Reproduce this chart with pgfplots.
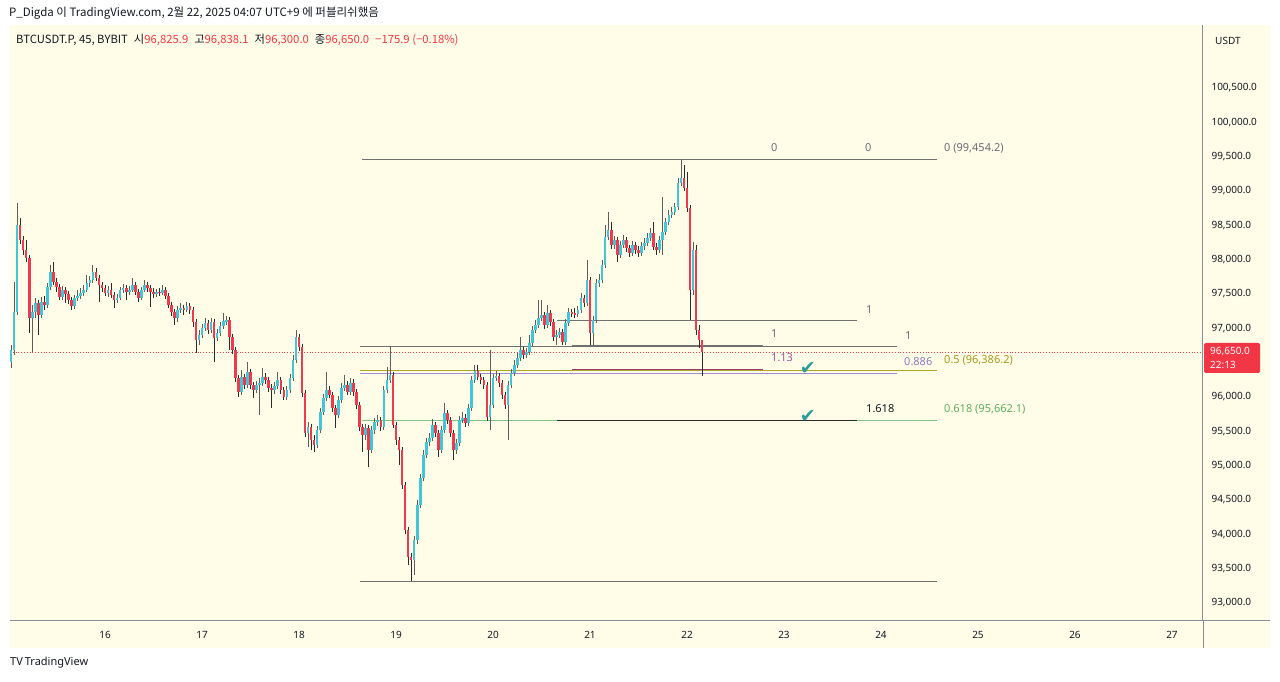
\documentclass[border=0pt]{standalone}
\usepackage{fontspec}
\usepackage{pgfplots}
\usepackage{pgfplotstable}
\pgfplotsset{compat=1.18}
\setmainfont{Noto Sans}
\newfontfamily\kr{Noto Sans CJK KR}
\newfontfamily\sym{DejaVu Sans}

\definecolor{bg}{HTML}{FFFDE8}
\definecolor{tvtext}{HTML}{131722}
\definecolor{axisgray}{HTML}{8A8D96}
\definecolor{upc}{HTML}{42C5D5}
\definecolor{dnc}{HTML}{EE3A4E}
\definecolor{wkup}{HTML}{5E5E5E}
\definecolor{wkdn}{HTML}{2B2B2B}
\definecolor{tvred}{HTML}{F23645}
\definecolor{fibgray}{HTML}{707070}
\definecolor{fibtext}{HTML}{6A6D78}
\definecolor{olive}{HTML}{B2A51F}
\definecolor{olivetext}{HTML}{A39A1E}
\definecolor{fibgreen}{HTML}{7CC47F}
\definecolor{greentext}{HTML}{5DAE5F}
\definecolor{fibpurple}{HTML}{A58BD0}
\definecolor{purpletext}{HTML}{8C7BBF}
\definecolor{fibplum}{HTML}{9E3A73}
\definecolor{plumtext}{HTML}{9C5A9C}
\definecolor{checkteal}{HTML}{2A9D9A}

% 45m candles, i = bar index from 15 Feb 00:45 (UTC+9)
\pgfplotstableread{
i o h l c
0 96510 96757 96422 96684
1 96684 97675 96612 97238
2 97238 98825 97194 98505
7 97150 97340 96655 97238
8 97238 97442 97150 97369
10 97194 97456 97150 97383
12 97340 97660 97296 97602
13 97602 97922 97558 97820
17 97456 97617 97413 97558
21 97325 97485 97282 97442
22 97442 97558 97398 97471
23 97471 97587 97427 97515
24 97515 97631 97471 97558
25 97558 97777 97529 97660
26 97660 97762 97602 97704
27 97704 97922 97660 97820
32 97515 97617 97456 97558
35 97413 97500 97369 97442
36 97442 97602 97413 97558
37 97558 97646 97515 97587
39 97529 97617 97485 97558
40 97558 97733 97529 97631
43 97442 97602 97413 97558
44 97558 97704 97529 97631
48 97500 97573 97456 97529
50 97515 97631 97485 97558
55 97150 97325 97092 97267
56 97267 97369 97223 97296
58 97267 97383 97238 97325
62 96830 96976 96757 96903
63 96903 97063 96859 97005
64 97005 97150 96961 97078
66 96976 97150 96932 97092
68 96859 96990 96816 96932
69 96932 97092 96888 97034
70 97034 97223 96990 97107
71 97107 97180 97049 97121
76 96073 96393 96029 96291
78 96175 96510 96131 96364
81 96102 96233 96058 96175
82 96175 96277 95738 96204
83 96204 96422 96160 96291
87 96102 96219 96044 96160
88 96160 96364 96117 96248
91 96000 96160 95956 96102
92 96102 96335 96058 96277
93 96277 96612 96233 96539
94 96539 96976 96495 96874
98 95476 95636 95272 95563
101 95301 95578 95257 95519
102 95519 95840 95476 95782
103 95782 96044 95738 95985
104 95985 96364 95942 96102
108 95738 96015 95694 95956
109 95956 96204 95913 96131
110 96131 96320 96087 96175
112 96073 96277 96029 96204
117 95447 95607 95374 95549
119 95228 95578 95184 95519
120 95519 95694 95461 95636
121 95636 95738 95578 95665
123 95563 96160 95519 96102
124 96102 96437 96058 96248
125 96248 96728 96204 96320
133 93626 93976 93408 93918
134 93918 94500 93859 94427
135 94427 94879 94384 94820
136 94820 95228 94777 95155
137 95155 95403 95112 95345
138 95345 95476 95286 95403
139 95403 95680 95359 95592
142 95228 95578 95184 95519
143 95519 95913 95476 95767
147 95228 95388 95170 95330
148 95330 95723 95286 95665
149 95665 95782 95621 95694
151 95621 95898 95578 95840
152 95840 96306 95796 96248
153 96248 96466 96204 96379
158 95709 96684 95519 95884
159 95884 96335 95840 96277
160 96277 96379 96233 96306
164 95884 96233 95374 96175
165 96175 96408 96131 96350
166 96350 96539 96306 96466
167 96466 96641 96422 96568
168 96568 96874 96524 96684
170 96612 96714 96568 96655
171 96655 96903 96612 96786
172 96786 97034 96743 96976
173 96976 97121 96932 97049
174 97049 97413 97005 97150
175 97150 97413 97107 97194
177 97049 97340 97005 97223
180 96874 96976 96757 96903
181 96903 97005 96859 96947
183 96801 97136 96757 97078
184 97078 97296 97034 97238
187 97209 97325 97165 97267
188 97267 97515 97223 97442
190 97369 97995 97325 97704
192 96932 97180 96757 97121
193 97121 97718 97078 97660
194 97660 97791 97602 97704
195 97704 97995 97660 97922
196 97922 98505 97879 98330
197 98330 98694 98286 98432
199 98214 98345 98155 98286
201 98068 98272 98024 98214
202 98214 98359 98170 98286
205 98097 98272 98053 98214
208 98097 98257 98053 98199
209 98199 98316 98141 98243
210 98243 98388 98199 98316
211 98316 98461 98272 98388
214 98141 98345 98097 98286
215 98286 98913 98068 98403
216 98403 98607 98359 98549
217 98549 98723 98505 98651
218 98651 98767 98607 98694
219 98694 98825 98651 98767
220 98767 99189 98723 99117
221 99117 99454.2 99073 99189
225 97558 98257 97485 98141
}\up

\pgfplotstableread{
i o h l c
3 98505 98607 98228 98286
4 98286 98345 98068 98141
5 98141 98286 97966 98024
6 98024 98068 96932 97150
9 97369 97413 96903 97194
11 97383 97471 97267 97340
14 97820 97966 97631 97675
15 97675 97733 97529 97602
16 97602 97646 97413 97456
18 97558 97602 97369 97500
19 97500 97544 97354 97413
20 97413 97456 97267 97325
28 97820 97879 97689 97733
29 97733 97777 97383 97631
30 97631 97675 97529 97587
31 97587 97631 97471 97515
33 97558 97660 97442 97485
34 97485 97529 97296 97413
38 97587 97631 97413 97529
41 97631 97675 97485 97529
42 97529 97573 97383 97442
45 97631 97675 97529 97587
46 97587 97631 97311 97529
47 97529 97587 97442 97500
49 97529 97587 97471 97515
51 97558 97602 97427 97471
52 97471 97515 97296 97340
53 97340 97383 97180 97238
54 97238 97282 97049 97150
57 97296 97340 97194 97267
59 97325 97369 97209 97267
60 97267 97311 97019 97092
61 97092 97136 96641 96830
65 97078 97121 96917 96976
67 97092 97136 96510 96859
72 97121 97165 96684 96874
73 96874 96917 96626 96684
74 96684 96728 96219 96277
75 96277 96320 96000 96073
77 96291 96335 96117 96175
79 96364 96408 96117 96175
80 96175 96219 95985 96102
84 96291 96350 96189 96248
85 96248 96291 96073 96131
86 96131 96189 95840 96102
89 96248 96291 96044 96102
90 96102 96146 95956 96000
95 96874 96917 96670 96728
96 96728 96772 96000 96058
97 96058 96102 95418 95476
99 95563 95607 95228 95374
100 95374 95447 95199 95301
105 96102 96160 95985 96029
106 96029 96073 95782 95840
107 95840 95884 95549 95738
111 96175 96233 96029 96073
113 96204 96262 96015 96073
114 96073 96117 95825 95884
115 95884 95927 95505 95563
116 95563 95607 95199 95447
118 95549 95592 94981 95228
122 95665 95709 95505 95563
126 96320 96364 95549 95592
127 95592 95636 95301 95374
128 95374 95418 95010 95228
129 95228 95272 94660 94718
130 94718 94762 94005 94063
131 94063 94107 93553 93670
132 93670 93728 93318.1 93626
140 95592 95636 95418 95476
141 95476 95519 95126 95228
144 95767 95811 95607 95665
145 95665 95709 95418 95476
146 95476 95519 95083 95228
150 95694 95752 95563 95621
154 96379 96466 96248 96291
155 96291 96335 96189 96248
156 96248 96291 96117 96175
157 96175 96219 95650 95709
161 96306 96350 96146 96204
162 96204 96248 95971 96029
163 96029 96073 95825 95884
169 96684 96728 96553 96612
176 97194 97238 96990 97049
178 97223 97267 97034 97092
179 97092 97136 96816 96874
182 96947 96990 96757 96801
185 97238 97282 97165 97223
186 97223 97296 97150 97209
189 97442 97485 97311 97369
191 97704 97748 96757 96932
198 98432 98549 98155 98214
200 98286 98330 97966 98068
203 98286 98330 98112 98170
204 98170 98214 98039 98097
206 98214 98257 98082 98141
207 98141 98199 98039 98097
212 98388 98549 98141 98185
213 98185 98243 98068 98141
222 99189 99379 99000 99044
223 99044 99277 98694 98752
224 98752 98796 97121 97558
226 98141 98214 96903 96976
227 96976 97049 96714 96830
228 96825.9 96838.1 96300.0 96650.0
}\down

\pgfplotsset{
  wick/.style={draw=none, mark=none, forget plot,
    error bars/.cd, y dir=both, y explicit, error mark=none,
    error bar style={line width=0.8pt, draw=#1, solid}},
  body/.style={draw=none, mark=none, forget plot,
    error bars/.cd, y dir=both, y explicit, error mark=none,
    error bar style={line width=2.6pt, draw=#1, solid}},
  fib/.style={line width=1pt, no marks, forget plot},
}

\begin{document}
\begin{tikzpicture}
% page and chart backgrounds, in pixel coordinates (y down)
\begin{scope}[x=1pt, y=-1pt, yshift=681pt]
\fill[white] (0,0) rectangle (1280,681);
\fill[bg] (10,25) rectangle (1270,648);
\end{scope}

\begin{axis}[
  at={(10pt,61pt)}, anchor=south west,
  scale only axis, width=1193pt, height=595pt,
  xmin=15.0206, xmax=27.3196, ymin=92752.4, ymax=101417.5,
  axis x line*=bottom, axis y line*=right,
  axis line style={-, draw=axisgray, line width=1pt},
  major tick length=0pt,
  xtick={16,17,18,19,20,21,22,23,24,25,26,27},
  xticklabels={16,\textbf{17},18,19,20,21,22,23,\textbf{24},25,26,27},
  xticklabel style={font=\fontsize{10}{12}\selectfont, text=tvtext, yshift=-8pt},
  ytick={93000,93500,94000,94500,95000,95500,96000,97000,97500,98000,98500,99000,99500,100000,100500},
  scaled y ticks=false,
  yticklabel style={font=\fontsize{10}{12}\selectfont, text=tvtext, anchor=west, xshift=5pt,
    /pgf/number format/.cd, fixed, fixed zerofill, precision=1, 1000 sep={,}, assume math mode=true},
]
% fib levels and drawings
\addplot[fib, fibgray] coordinates {(18.649,99454.2) (24.577,99454.2)};
\addplot[fib, fibgray] coordinates {(18.629,93318.1) (24.577,93318.1)};
\addplot[fib, fibgray] coordinates {(20.660,97107) (23.753,97107)};
\addplot[fib, fibgray] coordinates {(18.629,96733) (24.165,96733)};
\addplot[fib, fibgray] coordinates {(20.814,96757) (22.784,96757)};
\addplot[fib, fibpurple, line width=1.4pt] coordinates {(18.629,96345) (24.165,96345)};
\addplot[fib, olive] coordinates {(18.629,96386.2) (24.577,96386.2)};
\addplot[fib, fibplum, line width=1.3pt] coordinates {(20.814,96403) (22.784,96403)};
\addplot[fib, fibgreen] coordinates {(18.649,95662.1) (24.577,95662.1)};
\addplot[fib, wkdn] coordinates {(20.660,95658) (23.753,95658)};
% last price line
\addplot[forget plot, tvred, dotted, line width=0.8pt] coordinates {(15.0206,96650) (27.3196,96650)};
% wicks
\addplot[wick=wkup] table[x expr=15.03125+\thisrow{i}/32, y expr=(\thisrow{h}+\thisrow{l})/2, y error expr=(\thisrow{h}-\thisrow{l})/2] {\up};
\addplot[wick=wkdn] table[x expr=15.03125+\thisrow{i}/32, y expr=(\thisrow{h}+\thisrow{l})/2, y error expr=(\thisrow{h}-\thisrow{l})/2] {\down};
% bodies
\addplot[body=upc] table[x expr=15.03125+\thisrow{i}/32, y expr=(\thisrow{o}+\thisrow{c})/2, y error expr=(\thisrow{c}-\thisrow{o})/2] {\up};
\addplot[body=dnc] table[x expr=15.03125+\thisrow{i}/32, y expr=(\thisrow{o}+\thisrow{c})/2, y error expr=(\thisrow{o}-\thisrow{c})/2] {\down};
% check marks
\node[text=checkteal, font=\sym\fontsize{19}{19}\selectfont] at (axis cs:23.247,96422) {✔};
\node[text=checkteal, font=\sym\fontsize{19}{19}\selectfont] at (axis cs:23.247,95723) {✔};
\end{axis}

\begin{scope}[x=1pt, y=-1pt, yshift=681pt]
% axis extensions
\draw[axisgray, line width=1pt] (1203,620) -- (1270,620);
\draw[axisgray, line width=1pt] (1203,620) -- (1203,648);

% fib labels
\begin{scope}[every node/.style={anchor=west, inner sep=0pt, font=\fontsize{11}{12}\selectfont}]
\node[text=fibtext] at (771,148) {0};
\node[text=fibtext] at (865,148) {0};
\node[text=fibtext] at (944,148) {0 (99,454.2)};
\node[text=fibtext] at (866,310) {1};
\node[text=fibtext] at (771,334) {1};
\node[text=fibtext] at (905,336) {1};
\node[text=plumtext] at (771,358) {1.13};
\node[text=purpletext] at (904,362) {0.886};
\node[text=olivetext] at (944,360) {0.5 (96,386.2)};
\node[text=tvtext] at (866,409) {1.618};
\node[text=greentext] at (944,409) {0.618 (95,662.1)};
\node[text=tvtext, font=\fontsize{10}{12}\selectfont] at (1215,41) {USDT};
\end{scope}

% last price tag
\fill[tvred, rounded corners=1.5pt] (1204,343) rectangle (1260,373);
\node[anchor=west, inner sep=0pt, text=white, font=\fontsize{10}{12}\selectfont] at (1210,352) {96,650.0};
\node[anchor=west, inner sep=0pt, text=white, font=\fontsize{10}{12}\selectfont] at (1210,365) {22:13};

% header
\node[anchor=west, inner sep=0pt, text=tvtext, font=\kr\fontsize{11.5}{13}\selectfont] at (9,13)
  {P\_Digda 이 TradingView.com, 2월 22, 2025 04:07 UTC+9 에 퍼블리쉬했음};
\node[anchor=west, inner sep=0pt, text=tvtext, font=\kr\fontsize{11.3}{13}\selectfont] at (16,40)
  {BTCUSDT.P, 45, BYBIT\hspace{6pt}시\textcolor{tvred}{96,825.9}\hspace{6pt}고\textcolor{tvred}{96,838.1}\hspace{6pt}저\textcolor{tvred}{96,300.0}\hspace{6pt}종\textcolor{tvred}{96,650.0}\hspace{6pt}\textcolor{tvred}{−175.9 (−0.18\%)}};

% footer
\node[anchor=west, inner sep=0pt, text=tvtext, font=\fontsize{11}{12}\selectfont] at (10,663)
  {{\bfseries TV}\hspace{2pt}TradingView};

\pgfresetboundingbox
\path (0,0) rectangle (1280,681);
\end{scope}
\end{tikzpicture}
\end{document}
